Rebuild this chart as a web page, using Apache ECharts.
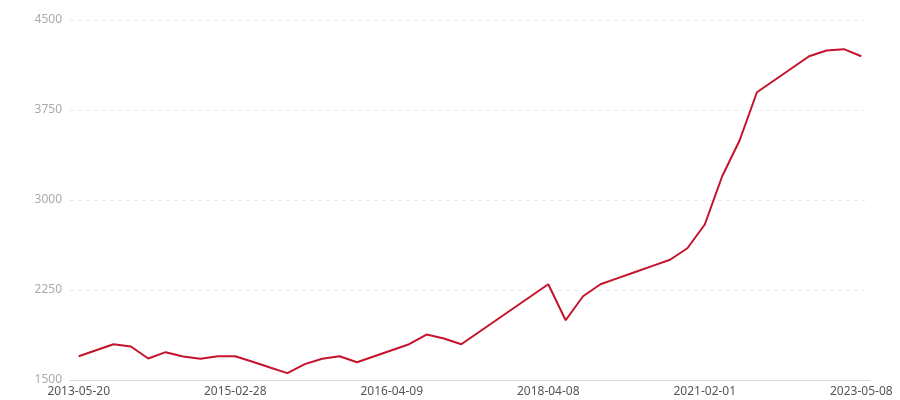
<!DOCTYPE html>
<html>
<head>
<meta charset="utf-8">
<script src="https://cdn.jsdelivr.net/npm/echarts@6/dist/echarts.min.js"></script>
<style>
  html, body { margin: 0; padding: 0; background: #fff; }
  #chart { width: 900px; height: 400px; }
</style>
</head>
<body>
<div id="chart"></div>
<script>
// categories (only every 9th label is shown)
var dates = [
  '2013-05-20', '2013-08-05', '2013-10-21', '2014-01-06', '2014-03-24',
  '2014-06-09', '2014-08-25', '2014-11-10', '2015-01-05', '2015-02-28',
  '2015-04-13', '2015-05-25', '2015-07-06', '2015-08-17', '2015-09-28',
  '2015-11-09', '2015-12-21', '2016-02-15', '2016-04-09', '2016-07-11',
  '2016-10-10', '2017-01-09', '2017-04-10', '2017-07-10', '2017-10-09',
  '2017-12-11', '2018-02-05', '2018-04-08', '2018-08-06', '2018-12-03',
  '2019-04-01', '2019-08-05', '2019-12-02', '2020-04-06', '2020-08-03',
  '2020-11-02', '2021-02-01', '2021-05-10', '2021-08-09', '2021-11-08',
  '2022-02-07', '2022-05-09', '2022-08-08', '2022-11-07', '2023-02-06',
  '2023-05-08'
];

var values = [
  1698, 1748, 1798, 1779, 1679, 1732, 1696, 1677, 1698, 1698,
  1652, 1604, 1557, 1632, 1677, 1698, 1648, 1698, 1748, 1798,
  1879, 1846, 1798, 1898, 1998, 2098, 2198, 2298, 1998, 2198,
  2298, 2349, 2400, 2451, 2502, 2598, 2796, 3198, 3496, 3898,
  3998, 4098, 4198, 4246, 4257, 4198
];

var chart = echarts.init(document.getElementById('chart'));
chart.setOption({
  animation: false,
  grid: { left: 70, right: 30, top: 20, bottom: 20 },
  xAxis: {
    type: 'category',
    data: dates,
    boundaryGap: true,
    axisLine: { lineStyle: { color: '#d9d9d9', width: 1 } },
    axisTick: { alignWithLabel: true, interval: 8, length: 4, lineStyle: { color: '#cccccc' } },
    axisLabel: { interval: 8, color: '#555', fontSize: 12, margin: 6, fontFamily: 'Noto Sans' }
  },
  yAxis: {
    type: 'value',
    min: 1500,
    max: 4500,
    interval: 750,
    axisLine: { show: false },
    axisTick: { show: false },
    axisLabel: { color: '#aaa', fontSize: 12, margin: 8, fontFamily: 'Noto Sans',
      formatter: function (v) { return String(v); } },
    splitLine: { lineStyle: { color: '#e8e8e8', type: [3, 5] } }
  },
  series: [{
    type: 'line',
    data: values,
    showSymbol: false,
    lineStyle: { color: '#c4142b', width: 2 },
    itemStyle: { color: '#c4142b' }
  }]
});
</script>
</body>
</html>
